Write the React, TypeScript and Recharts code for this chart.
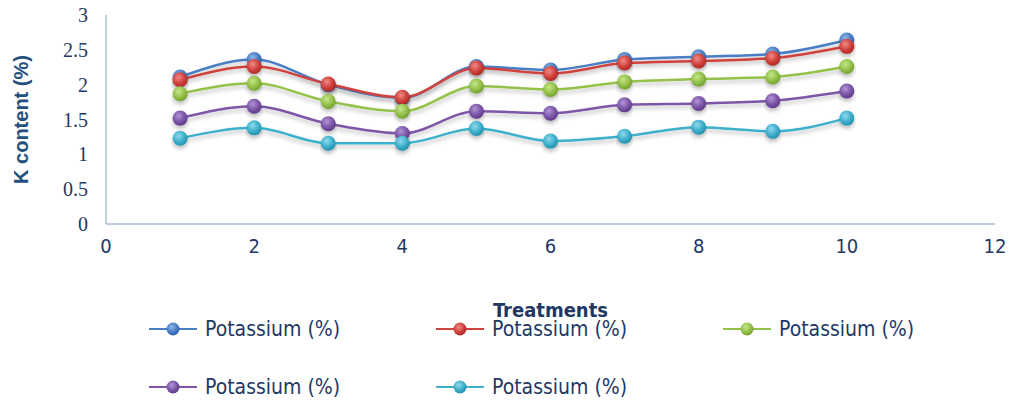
import { LineChart, Line, XAxis, YAxis, Legend } from 'recharts';

const treatments = [1, 2, 3, 4, 5, 6, 7, 8, 9, 10];
const series1 = [2.11, 2.36, 2.0, 1.81, 2.26, 2.21, 2.36, 2.4, 2.44, 2.64];
const series2 = [2.07, 2.26, 2.01, 1.82, 2.24, 2.16, 2.31, 2.34, 2.38, 2.55];
const series3 = [1.87, 2.02, 1.76, 1.62, 1.98, 1.93, 2.04, 2.08, 2.11, 2.26];
const series4 = [1.52, 1.69, 1.44, 1.3, 1.62, 1.59, 1.71, 1.73, 1.77, 1.91];
const series5 = [1.23, 1.38, 1.16, 1.16, 1.37, 1.19, 1.26, 1.39, 1.33, 1.52];
const seriesName = 'Potassium (%)';
const xTicks = [0, 2, 4, 6, 8, 10, 12];
const yTicks = [0, 0.5, 1, 1.5, 2, 2.5, 3];

const colors = [
    { line: '#4a7ec4', light: '#8fb6ea', dark: '#2f62a8' },
    { line: '#d0433e', light: '#f08a85', dark: '#b02a26' },
    { line: '#94c14a', light: '#c6e68a', dark: '#73a22e' },
    { line: '#7d56a8', light: '#b194d6', dark: '#5f3b8a' },
    { line: '#3eb0cc', light: '#8fd9ec', dark: '#2590ad' },
];

const allSeries = [series1, series2, series3, series4, series5];

const data = treatments.map((t, i) => {
    const row: Record<string, number> = { t };
    allSeries.forEach((s, k) => { row[`s${k}`] = s[i]; });
    return row;
});

const navy = '#1f3864';
const narrow = '"DejaVu Sans Condensed", "DejaVu Sans", sans-serif';

function LegendGrid({ payload }: any) {
    return (
        <div style={{ position: 'relative', height: 86 }}>
            {(payload || []).map((p: any, i: number) => {
                const col = i % 3;
                const row = Math.floor(i / 3);
                const c = colors[i];
                return (
                    <div
                        key={i}
                        style={{
                            position: 'absolute',
                            left: 149 + col * 287,
                            top: row * 58,
                            height: 22,
                            display: 'flex',
                            alignItems: 'center',
                        }}
                    >
                        <svg width={56} height={20}>
                            <line x1={0} y1={10} x2={48} y2={10} stroke={c.line} strokeWidth={2} />
                            <circle cx={24} cy={10} r={6.5} fill={`url(#grad-${i})`} />
                        </svg>
                        <span style={{ fontFamily: narrow, fontStretch: 'condensed', fontSize: 21, color: navy, lineHeight: '22px' }}>
                            {p.value}
                        </span>
                    </div>
                );
            })}
        </div>
    );
}

export default function App() {
    return (
        <div style={{ width: 1014, height: 404, background: '#fff' }}>
            <style>{`body{margin:0}`}</style>
            <LineChart width={1014} height={404} data={data} margin={{ top: 15, right: 19, left: 0, bottom: 0 }}>
                <defs>
                    {colors.map((c, i) => (
                        <radialGradient key={i} id={`grad-${i}`} cx="40%" cy="35%" r="65%">
                            <stop offset="0%" stopColor={c.light} />
                            <stop offset="60%" stopColor={c.line} />
                            <stop offset="100%" stopColor={c.dark} />
                        </radialGradient>
                    ))}
                    <filter id="shadow" x="-5%" y="-20%" width="110%" height="160%">
                        <feDropShadow dx="0" dy="3" stdDeviation="2" floodColor="#000" floodOpacity="0.25" />
                    </filter>
                </defs>
                <XAxis
                    dataKey="t"
                    type="number"
                    domain={[0, 12]}
                    ticks={xTicks}
                    height={94}
                    tickLine={false}
                    tickMargin={9}
                    axisLine={{ stroke: '#a9bcd4', strokeWidth: 1.5 }}
                    tick={{ fill: navy, fontSize: 20, fontFamily: narrow, fontStretch: 'condensed' }}
                    label={{
                        value: 'Treatments',
                        position: 'insideBottom',
                        offset: 1,
                        style: { fill: navy, fontSize: 20, fontWeight: 'bold', fontFamily: narrow, fontStretch: 'condensed' },
                    }}
                />
                <YAxis
                    domain={[0, 3]}
                    ticks={yTicks}
                    width={106}
                    tickLine={false}
                    tickMargin={12}
                    axisLine={{ stroke: '#a9bcd4', strokeWidth: 1.5 }}
                    tick={{ fill: navy, fontSize: 20, fontFamily: '"Liberation Serif", serif' }}
                    label={{
                        value: 'K content (%)',
                        angle: -90,
                        position: 'insideLeft',
                        offset: 21,
                        style: { textAnchor: 'middle', fill: '#24507f', fontSize: 20, fontWeight: 'bold', fontFamily: '"Liberation Sans", sans-serif' },
                    }}
                />
                <Legend verticalAlign="bottom" height={86} content={<LegendGrid />} wrapperStyle={{ left: 0, width: 1014 }} />
                {allSeries.map((_, i) => (
                    <Line
                        key={i}
                        type="monotone"
                        dataKey={`s${i}`}
                        name={seriesName}
                        stroke={colors[i].line}
                        strokeWidth={2.5}
                        dot={{ r: 7.5, fill: `url(#grad-${i})`, stroke: 'none' }}
                        style={{ filter: 'url(#shadow)' }}
                        isAnimationActive={false}
                    />
                ))}
            </LineChart>
        </div>
    );
}
